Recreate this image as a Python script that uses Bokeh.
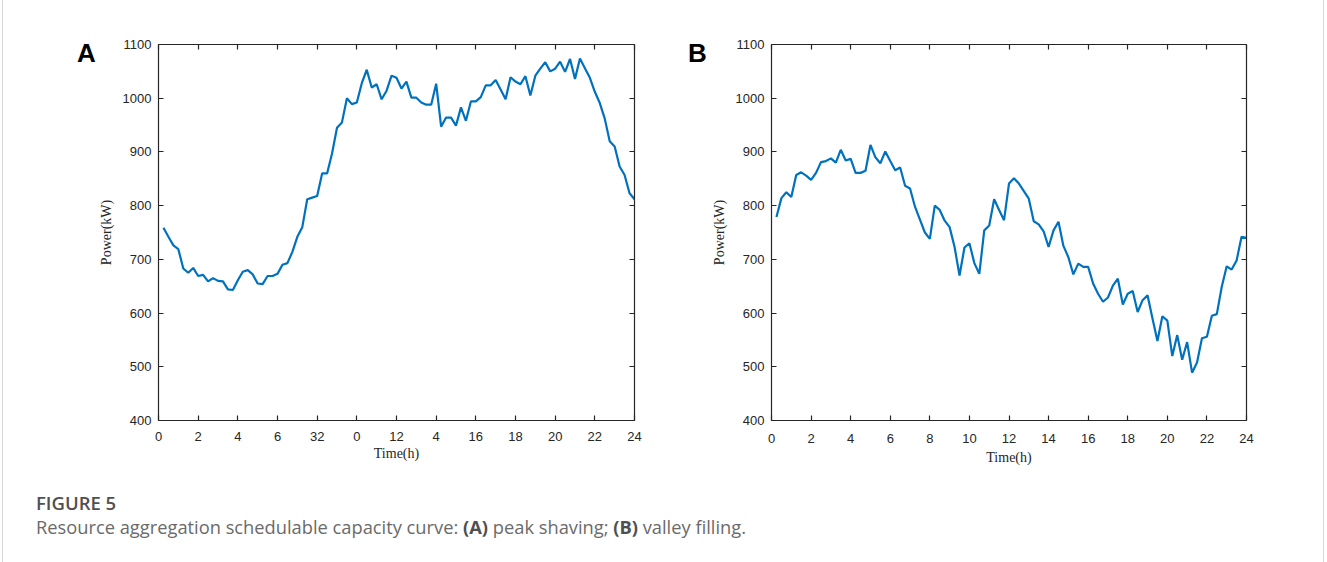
from bokeh.plotting import figure
from bokeh.models import LinearAxis, FixedTicker, Div, Range1d, CustomLabelingPolicy
from bokeh.layouts import row, column
from bokeh.embed import file_html
from bokeh.resources import INLINE

# ---- data ----
time_h = [0.25 * i for i in range(1, 97)]

power_a = [759, 742, 726, 719, 683, 675, 684, 669, 671, 659, 665, 660,
           659, 644, 643, 661, 677, 680, 672, 655, 654, 669, 669, 673,
           690, 693, 714, 742, 760, 812, 815, 818, 860, 860, 897, 945,
           955, 1000, 989, 992, 1028, 1053, 1020, 1026, 998, 1014, 1042, 1038,
           1018, 1031, 1001, 1001, 992, 988, 988, 1027, 947, 964, 964, 949,
           983, 958, 994, 994, 1002, 1024, 1024, 1034, 1016, 998, 1039, 1031,
           1026, 1041, 1005, 1042, 1055, 1067, 1050, 1055, 1068, 1049, 1073, 1036,
           1074, 1056, 1038, 1012, 991, 962, 920, 910, 873, 857, 823, 812]

power_b = [779, 814, 825, 816, 857, 862, 856, 848, 861, 881, 883, 888,
           880, 904, 884, 887, 861, 861, 865, 913, 890, 879, 901, 883,
           866, 871, 837, 832, 798, 774, 750, 738, 800, 792, 772, 760,
           723, 670, 722, 730, 693, 673, 754, 763, 812, 792, 773, 841,
           851, 841, 827, 813, 771, 765, 752, 723, 754, 770, 725, 704,
           672, 692, 686, 686, 655, 636, 621, 629, 651, 664, 616, 636,
           641, 602, 624, 633, 590, 548, 594, 586, 520, 559, 513, 546,
           489, 508, 553, 556, 595, 598, 649, 687, 681, 698, 742, 740]

x_ticks = [0, 2, 4, 6, 8, 10, 12, 14, 16, 18, 20, 22, 24]
x_labels_a = ["0", "2", "4", "6", "32", "0", "12", "4", "16", "18", "20", "22", "24"]
y_ticks = [400, 500, 600, 700, 800, 900, 1000, 1100]

LINE_COLOR = "#0072BD"
AX_COLOR = "#262626"
FIG_H = 478


def style_axis(ax, show_labels=True, standoff=8):
    ax.axis_line_color = AX_COLOR
    ax.axis_line_width = 1.2
    ax.major_tick_line_color = AX_COLOR
    ax.major_tick_line_width = 1.2
    ax.major_tick_in = 5
    ax.major_tick_out = 0
    ax.minor_tick_in = 0
    ax.minor_tick_out = 0
    ax.major_label_text_font = "Liberation Sans"
    ax.major_label_text_color = AX_COLOR
    ax.major_label_standoff = standoff
    ax.major_label_text_font_size = "13px"
    if not show_labels:
        ax.major_label_text_font_size = "0px"
        ax.major_label_standoff = 0
        ax.major_label_policy = CustomLabelingPolicy(code="return []")
    ax.axis_label_text_font = "Liberation Serif"
    ax.axis_label_text_font_style = "normal"
    ax.axis_label_text_font_size = "14px"
    ax.axis_label_text_color = AX_COLOR


def make_panel(values, width, mb_left, mb_right, x_overrides=None,
               xstand=8, x_lab_stand=4, y_lab_stand=6):
    p = figure(width=width, height=FIG_H, x_range=Range1d(0, 24),
               y_range=Range1d(400, 1100), output_backend="svg",
               toolbar_location=None, min_border_left=mb_left,
               min_border_right=mb_right, min_border_top=44,
               min_border_bottom=FIG_H - 44 - 376)
    p.grid.visible = False
    p.outline_line_color = None

    p.line(time_h, values, line_color=LINE_COLOR, line_width=2.2)

    xa = p.xaxis[0]
    ya = p.yaxis[0]
    xa.ticker = FixedTicker(ticks=x_ticks)
    ya.ticker = FixedTicker(ticks=y_ticks)
    if x_overrides:
        xa.major_label_overrides = {t: l for t, l in zip(x_ticks, x_overrides)}
    xa.axis_label = "Time(h)"
    ya.axis_label = "Power(kW)"
    style_axis(xa, standoff=xstand)
    style_axis(ya, standoff=7)
    xa.axis_label_standoff = x_lab_stand
    ya.axis_label_standoff = y_lab_stand

    top = LinearAxis(ticker=FixedTicker(ticks=x_ticks))
    right = LinearAxis(ticker=FixedTicker(ticks=y_ticks))
    style_axis(top, show_labels=False)
    style_axis(right, show_labels=False)
    p.add_layout(top, "above")
    p.add_layout(right, "right")
    return p


def letter_div(letter, width, left):
    return Div(text=(f'<div style="font-family:\'Liberation Sans\',Arial,sans-serif;'
                     f'font-weight:bold;font-size:26px;line-height:26px;color:#000;'
                     f'margin-top:40px;margin-left:{left}px;">{letter}</div>'),
               width=width, height=FIG_H, margin=0)


pa = make_panel(power_a, 583, 62, 44, x_overrides=x_labels_a,
                xstand=11, x_lab_stand=2, y_lab_stand=6)
pb = make_panel(power_b, 615, 59, 77, xstand=13, x_lab_stand=4, y_lab_stand=6)

div_a = letter_div("A", 92, 74)
div_b = letter_div("B", 30, 10)

caption = Div(text=(
    '<div style="font-family:\'Open Sans\',sans-serif;padding-top:13px;">'
    '<div style="font-size:18.5px;font-weight:600;color:#505050;line-height:24px;">FIGURE 5</div>'
    '<div style="font-size:18.3px;color:#6a6a6a;line-height:24px;">'
    'Resource aggregation schedulable capacity curve: '
    '<b style="color:#505050;">(A)</b> peak shaving; '
    '<b style="color:#505050;">(B)</b> valley filling.</div></div>'),
    width=1280, height=84, margin=0, styles={"margin-left": "33px"})

layout = column(row(div_a, pa, div_b, pb), caption,
                styles={"border-left": "1px solid #d6d6d6",
                        "border-right": "1px solid #d6d6d6",
                        "margin-left": "2px"})

open("out.html", "w").write(file_html(layout, INLINE))
